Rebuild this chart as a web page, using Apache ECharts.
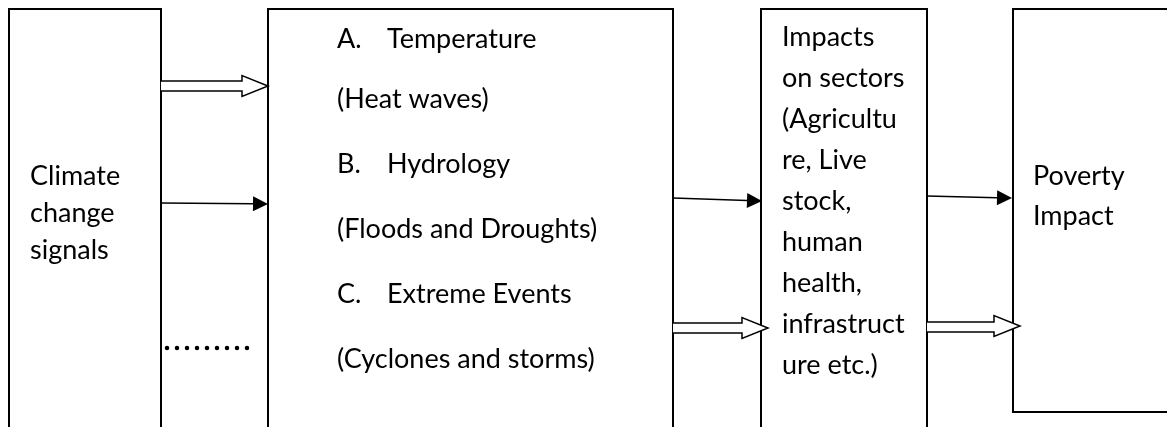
<!DOCTYPE html>
<html>
<head>
<meta charset="utf-8">
<script src="https://cdn.jsdelivr.net/npm/echarts@6/dist/echarts.min.js"></script>
<style>
html, body { margin: 0; padding: 0; background: #fff; }
#chart { width: 1167px; height: 427px; }
</style>
</head>
<body>
<div id="chart"></div>
<script>
// diagram units: 1 unit = 1 px, y grows downwards
// boxes [x0, y0, x1, y1]
var boxes = [[9, 9, 161, 440], [268, 9, 673, 440], [761, 9, 927, 440], [1013, 9, 1180, 412]];
var signalLines = ['Climate', 'change', 'signals'];
var hazardMarks = ['A.', 'B.', 'C.'];
var hazardNames = ['Temperature', 'Hydrology', 'Extreme Events'];
var hazardNotes = ['(Heat waves)', '(Floods and Droughts)', '(Cyclones and storms)'];
var sectorLines = ['Impacts', 'on sectors', '(Agricultu', 're, Live', 'stock,', 'human', 'health,', 'infrastruct', 'ure etc.)'];
var povertyLines = ['Poverty', 'Impact'];
// arrows [x0, y0, x1 (tip), y1]
var solidArrows = [[161, 203, 268, 204], [673, 198, 762, 201], [927, 196, 1012, 198]];
var hollowArrows = [[161, 86, 268, 86], [673, 328, 768, 328], [927, 327, 1020, 326]];
var dotRows = [[167, 348, 247, 348]];

var FONT = '27px Lato';
var MID = 9; // baseline -> middle offset

// build label list (x, baseline y, text)
var labels = [];
signalLines.forEach(function (t, i) { labels.push([30, 185 + i * 37, t]); });
var hazardBase = [48, 173, 303], noteBase = [108, 238, 368];
hazardMarks.forEach(function (m, i) {
	labels.push([337, hazardBase[i], m]);
	labels.push([387, hazardBase[i], hazardNames[i]]);
	labels.push([337, noteBase[i], hazardNotes[i]]);
});
sectorLines.forEach(function (t, i) { labels.push([782, 46 + i * 41, t]); });
povertyLines.forEach(function (t, i) { labels.push([1033, 185 + i * 40, t]); });

var chart = echarts.init(document.getElementById('chart'));

var option = {
	backgroundColor: '#fff',
	animation: false,
	grid: { left: 0, right: 0, top: 0, bottom: 0 },
	xAxis: { type: 'value', min: 0, max: 1167, show: false },
	yAxis: { type: 'value', min: 0, max: 427, inverse: true, show: false },
	series: [{
		name: 'boxes',
		type: 'custom',
		data: boxes,
		renderItem: function (params, api) {
			var p0 = api.coord([api.value(0), api.value(1)]);
			var p1 = api.coord([api.value(2), api.value(3)]);
			return {
				type: 'rect',
				shape: { x: p0[0], y: p0[1], width: p1[0] - p0[0], height: p1[1] - p0[1] },
				style: { fill: 'none', stroke: '#000', lineWidth: 2 }
			};
		}
	}, {
		name: 'solid',
		type: 'custom',
		data: solidArrows,
		renderItem: function (params, api) {
			var a = api.coord([api.value(0), api.value(1)]);
			var b = api.coord([api.value(2), api.value(3)]);
			var ang = Math.atan2(b[1] - a[1], b[0] - a[0]);
			var len = 15, hw = 7.5;
			var c = Math.cos(ang), s = Math.sin(ang);
			var base = [b[0] - len * c, b[1] - len * s];
			return {
				type: 'group',
				children: [{
					type: 'line',
					shape: { x1: a[0], y1: a[1], x2: base[0], y2: base[1] },
					style: { stroke: '#000', lineWidth: 1.5 }
				}, {
					type: 'polygon',
					shape: { points: [b, [base[0] - hw * s, base[1] + hw * c], [base[0] + hw * s, base[1] - hw * c]] },
					style: { fill: '#000' }
				}]
			};
		}
	}, {
		name: 'hollow',
		type: 'custom',
		data: hollowArrows,
		renderItem: function (params, api) {
			var a = api.coord([api.value(0), api.value(1)]);
			var b = api.coord([api.value(2), api.value(3)]);
			var h = 5, H = 10.5, len = 26;
			var xb = b[0] - len;
			return {
				type: 'polyline',
				shape: { points: [[a[0], a[1] - h], [xb, a[1] - h], [xb, b[1] - H], b, [xb, b[1] + H], [xb, a[1] + h], [a[0], a[1] + h]] },
				style: { fill: '#fff', stroke: '#000', lineWidth: 1.5 }
			};
		}
	}, {
		name: 'dots',
		type: 'custom',
		data: dotRows,
		renderItem: function (params, api) {
			var a = api.coord([api.value(0), api.value(1)]);
			var b = api.coord([api.value(2), api.value(3)]);
			return {
				type: 'line',
				shape: { x1: a[0], y1: a[1], x2: b[0] + 0.5, y2: b[1] },
				style: { stroke: '#000', lineWidth: 4.5, lineCap: 'round', lineDash: [0, 10] }
			};
		}
	}, {
		name: 'labels',
		type: 'custom',
		data: labels.map(function (l) { return [l[0], l[1]]; }),
		renderItem: function (params, api) {
			var p = api.coord([api.value(0), api.value(1)]);
			return {
				type: 'text',
				style: {
					x: p[0], y: p[1] - MID,
					text: labels[params.dataIndex][2],
					font: FONT, fill: '#000',
					align: 'left', verticalAlign: 'middle'
				}
			};
		}
	}]
};
chart.setOption(option);
</script>
</body>
</html>
